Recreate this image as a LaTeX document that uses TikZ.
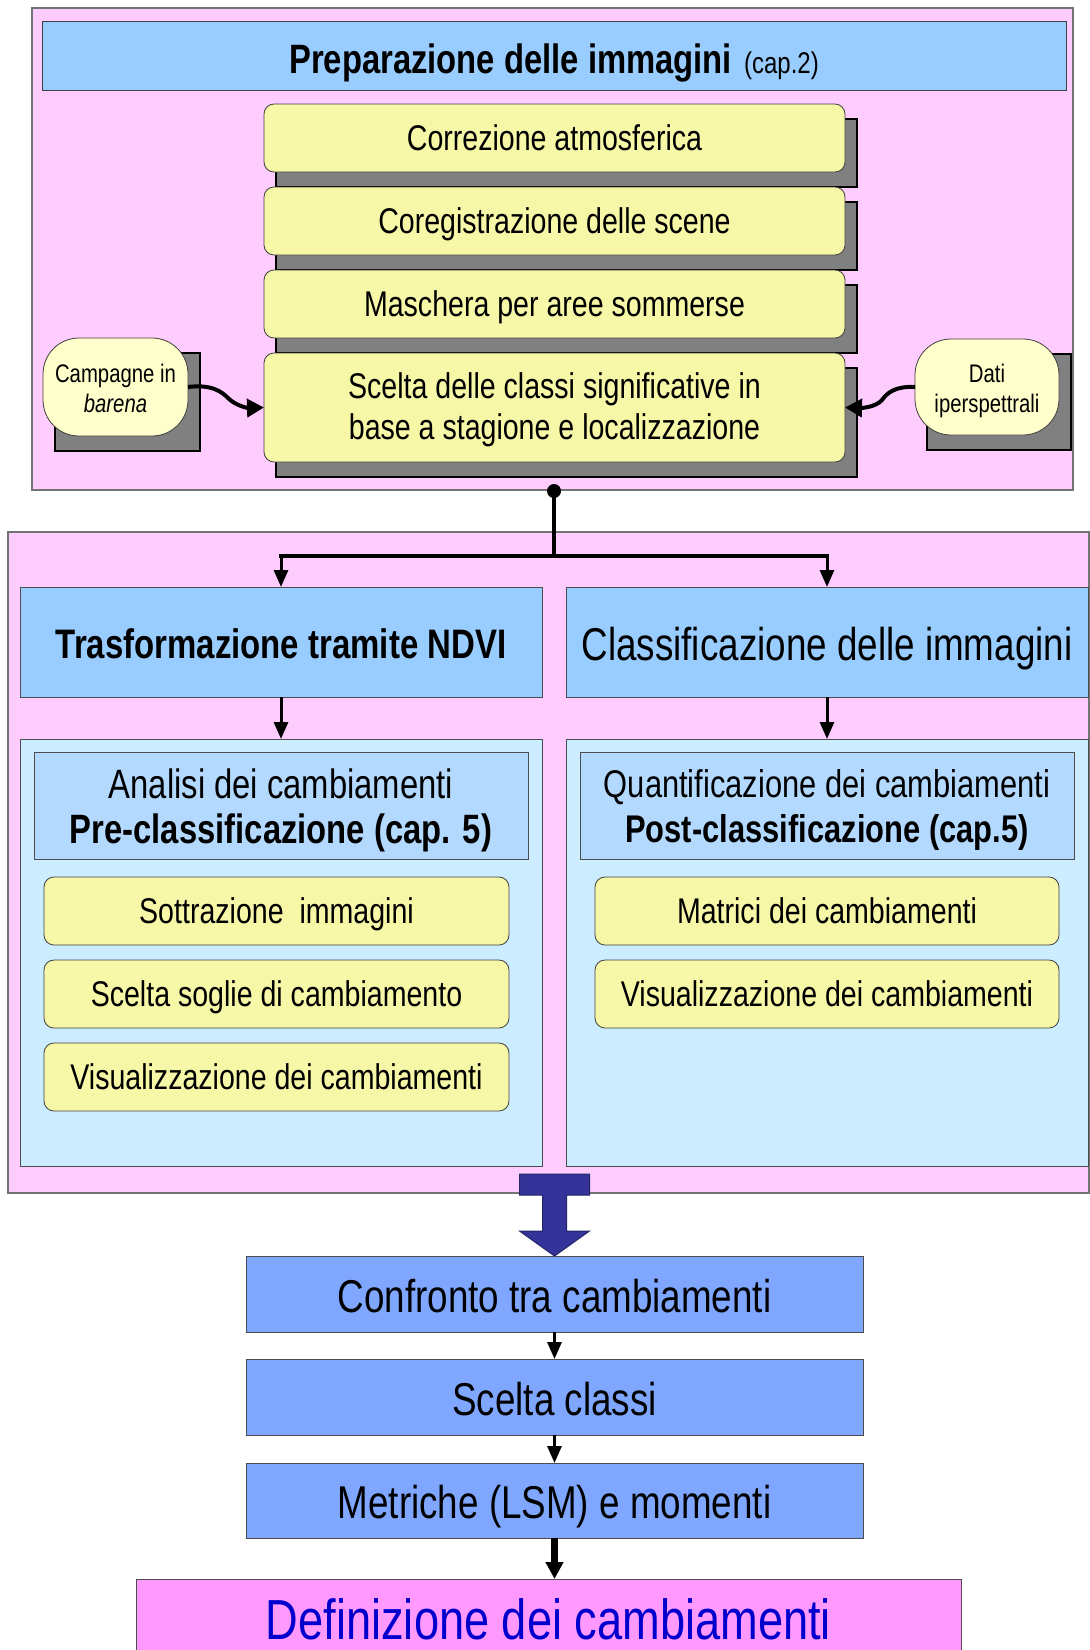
\documentclass[tikz,border=0pt]{standalone}
\usepackage{fontspec}
\setmainfont{Liberation Sans}[FakeStretch=0.80]
\usetikzlibrary{arrows.meta}
\definecolor{pinkbg}{HTML}{FFCCFF}
\definecolor{titleblue}{HTML}{99CCFF}
\definecolor{yel}{HTML}{F6F7A7}
\definecolor{paleyel}{HTML}{FFFFCC}
\definecolor{shadowgray}{HTML}{808080}
\definecolor{panelblue}{HTML}{CCECFF}
\definecolor{headblue}{HTML}{B3D9FF}
\definecolor{lowblue}{HTML}{7FA7FF}
\definecolor{defpink}{HTML}{FF99FF}
\definecolor{deftext}{HTML}{0000CC}
\definecolor{bigarrow}{HTML}{333399}
\pgfdeclarelayer{back}
\pgfdeclarelayer{shad}
\pgfsetlayers{back,shad,main}
\newcommand{\myfs}[2]{\fontsize{#1}{#2}\selectfont}
\newcommand{\lowtext}[2]{\raisebox{-#1}[\height][\depth]{\begin{tabular}{@{}c@{}}#2\end{tabular}}}
\begin{document}
\begin{tikzpicture}[x=1pt,y=-1pt,
  every node/.style={inner sep=0pt, outer sep=0pt, align=center},
  frame/.style={draw=black!55, line width=1.2pt, fill=pinkbg},
  titlebox/.style={draw=black!75, line width=1pt, fill=titleblue},
  yelbase/.style={draw=black!75, line width=0.8pt, fill=yel, rounded corners=10pt, font=\myfs{35.7}{41}},
  yelbox/.style={yelbase, text height=25.7pt, text depth=0pt},
  oval/.style={draw=black!75, line width=0.8pt, fill=paleyel, rounded corners=36pt, font=\myfs{25.4}{30}},
  shadowbox/.style={draw=black, line width=1.8pt, fill=shadowgray},
  midbox/.style={draw=black!70, line width=1pt, fill=titleblue},
  panel/.style={draw=black!70, line width=1pt, fill=panelblue},
  headbox/.style={draw=black!70, line width=1pt, fill=headblue, font=\myfs{41}{45}},
  lowbox/.style={draw=black!70, line width=1pt, fill=lowblue, font=\myfs{46}{52}, text height=36.3pt, text depth=0pt},
  conn/.style={line width=3pt, -{Triangle[length=17pt,width=14pt]}},
  thickconn/.style={line width=6.5pt, -{Triangle[length=17pt,width=17pt]}},
  wavy/.style={line width=4pt, -{Triangle[length=17pt,width=18pt]}},
  bigarr/.style={fill=bigarrow, draw=bigarrow!70!black, line width=1pt},
]
\useasboundingbox (0,0) rectangle (1090,1650);
\clip (0,0) rectangle (1090,1650);

% ---------- frames ----------
\begin{pgfonlayer}{back}
  \draw[frame] (32,8) rectangle (1073,490);
  \draw[frame] (8,532) rectangle (1089,1193);
\end{pgfonlayer}

% ---------- top section ----------
\node[titlebox, minimum width=1024pt, minimum height=69pt, font=\myfs{41}{48}\bfseries,
      text height=36pt, text depth=0pt] (title) at (554,55.5)
  {Preparazione delle immagini\hspace{12pt}{\mdseries\myfs{30}{36}(cap.2)}};

\node[yelbox, minimum width=581pt, minimum height=68pt] (b1) at (554.5,138) {Correzione atmosferica};
\node[yelbox, minimum width=581pt, minimum height=68pt] (b2) at (554.5,221) {Coregistrazione delle scene};
\node[yelbox, minimum width=581pt, minimum height=68pt] (b3) at (554.5,304) {Maschera per aree sommerse};
\node[yelbase, minimum width=581pt, minimum height=109pt] (b4) at (554.5,407.5)
  {\lowtext{3.6pt}{Scelta delle classi significative in\\base a stagione e localizzazione}};

\node[oval, minimum width=145pt, minimum height=98pt] (camp) at (115.5,387) {\lowtext{4.5pt}{Campagne in\\\textit{barena}}};
\node[oval, minimum width=144pt, minimum height=96pt] (dati) at (987,387) {\lowtext{4.5pt}{Dati\\iperspettrali}};

\begin{pgfonlayer}{shad}
  \foreach \n in {b1,b2,b3,b4,camp,dati}
    \draw[shadowbox] ([shift={(12,15)}]\n.north west) rectangle ([shift={(12,15)}]\n.south east);
\end{pgfonlayer}

\draw[wavy] (camp.east) .. controls (212,384) and (222,392) .. (228,398)
  .. controls (236,406) and (248,408) .. (b4.west);
\draw[wavy] (dati.west) .. controls (895,386) and (887,393) .. (882,400)
  .. controls (876,407) and (862,408) .. (b4.east);

% ---------- split connector ----------
\node[circle, fill=black, minimum size=14pt] (dot) at (554,491) {};
\coordinate (split) at (554,556);

\node[midbox, minimum width=522pt, minimum height=110pt, font=\myfs{41.2}{48}\bfseries,
      text height=33pt, text depth=0pt] (ndvi) at (281,642)
  {Trasformazione tramite NDVI};
\node[midbox, minimum width=522pt, minimum height=110pt, font=\myfs{46}{52},
      text height=36.3pt, text depth=0pt] (cls) at (827,642)
  {Classificazione delle immagini};

\draw[line width=4pt] (dot.center) -- (split);
\draw[line width=4.5pt, line cap=rect] (ndvi.north |- split) -- (cls.north |- split);
\draw[conn] (ndvi.north |- split) -- (ndvi.north);
\draw[conn] (cls.north |- split) -- (cls.north);

% ---------- panels ----------
\node[panel, minimum width=522pt, minimum height=427pt] (lpanel) at (281,952.5) {};
\node[panel, minimum width=522pt, minimum height=427pt] (rpanel) at (827,952.5) {};

\draw[conn] (ndvi.south) -- (lpanel.north);
\draw[conn] (cls.south) -- (rpanel.north);

\node[headbox, minimum width=494pt, minimum height=107pt] (lhead) at (281,805.5)
  {\lowtext{6pt}{Analisi dei cambiamenti\\\textbf{Pre-classificazione (cap. 5)}}};
\node[headbox, minimum width=494pt, minimum height=107pt, font=\myfs{38.6}{45}] (rhead) at (827,805.5)
  {\lowtext{5.5pt}{Quantificazione dei cambiamenti\\\textbf{Post-classificazione (cap.5)}}};

\node[yelbox, minimum width=465pt, minimum height=68pt] (l1) at (276.5,911) {Sottrazione~ immagini};
\node[yelbox, minimum width=465pt, minimum height=68pt] (l2) at (276.5,994) {Scelta soglie di cambiamento};
\node[yelbox, minimum width=465pt, minimum height=68pt] (l3) at (276.5,1077) {Visualizzazione dei cambiamenti};

\node[yelbox, minimum width=464pt, minimum height=68pt] (r1) at (827,911) {Matrici dei cambiamenti};
\node[yelbox, minimum width=464pt, minimum height=68pt] (r2) at (827,994) {Visualizzazione dei cambiamenti};

\begin{pgfonlayer}{shad}
  \foreach \n in {l1,l2,l3,r1,r2}
    \draw[shadowbox] ([shift={(12,15)}]\n.north west) rectangle ([shift={(12,15)}]\n.south east);
\end{pgfonlayer}

% ---------- bottom chain ----------
\node[lowbox, minimum width=617pt, minimum height=76pt] (conf) at (554.5,1294) {Confronto tra cambiamenti};
\node[lowbox, minimum width=617pt, minimum height=76pt] (scel) at (554.5,1397) {Scelta classi};
\node[lowbox, minimum width=617pt, minimum height=75pt] (metr) at (554.5,1500.5) {Metriche (LSM) e momenti};
\node[draw=black!70, line width=1pt, fill=defpink, minimum width=825pt, minimum height=121pt] (def) at (548.5,1639.5) {};
\node[anchor=base, font=\myfs{56.5}{64}, text=deftext] (deftxt) at (548.5,1639) {Definizione dei cambiamenti};

\draw[bigarr] (conf.north) -- ++(35,-25) -- ++(-23,0) -- ++(0,-36) -- ++(23,0) -- ++(0,-21)
  -- ++(-70,0) -- ++(0,21) -- ++(23,0) -- ++(0,36) -- ++(-23,0) -- cycle;

\draw[conn] (conf.south) -- (scel.north);
\draw[conn] (scel.south) -- (metr.north);
\draw[thickconn] (metr.south) -- (metr.south |- def.north);
\end{tikzpicture}
\end{document}
